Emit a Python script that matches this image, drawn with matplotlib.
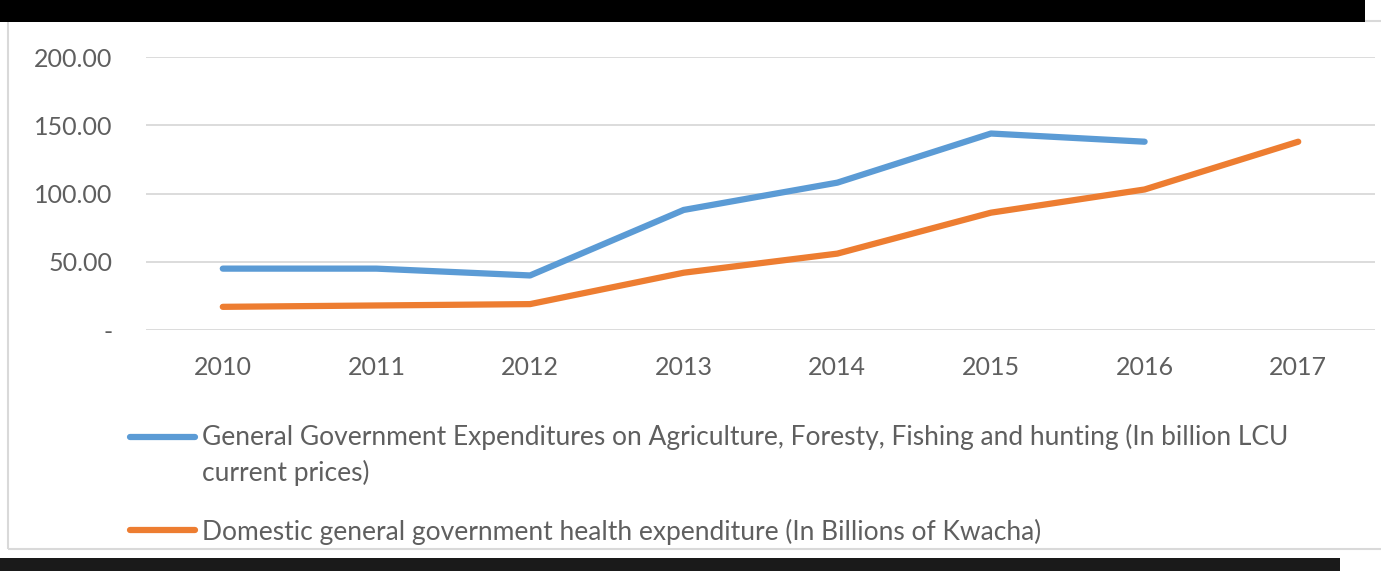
import numpy as np
import matplotlib.pyplot as plt
from matplotlib.lines import Line2D
from matplotlib.patches import Rectangle

years = ['2010', '2011', '2012', '2013', '2014', '2015', '2016', '2017']
agri = [45, 45, 40, 88, 108, 144, 138, np.nan]
health = [17, 18, 19, 42, 56, 86, 103, 138]
yticks = [0, 50, 100, 150, 200]
ytick_labels = ['-', '50.00', '100.00', '150.00', '200.00']
agri_label = ('General Government Expenditures on Agriculture, Foresty, Fishing and hunting (In billion LCU\n'
              'current prices)')
health_label = 'Domestic general government health expenditure (In Billions of Kwacha)'

blue = '#5b9bd5'
orange = '#ed7d31'
grey = '#5f5f5f'

plt.rcParams['font.family'] = ['Lato', 'DejaVu Sans']

fig = plt.figure(figsize=(13.81, 5.71), dpi=100)
ax = fig.add_axes([0.1057, 0.422, 0.89, 0.478])

x = np.arange(len(years))
ax.plot(x, agri, color=blue, lw=4.5, solid_capstyle='round', solid_joinstyle='round')
ax.plot(x, health, color=orange, lw=4.5, solid_capstyle='round', solid_joinstyle='round')

ax.set_xlim(-0.5, len(years) - 0.5)
ax.set_ylim(0, 200)
ax.set_yticks(yticks)
ax.set_yticklabels(ytick_labels)
ax.set_xticks(x)
ax.set_xticklabels(years)
ax.tick_params(axis='both', length=0, labelsize=18, colors=grey)
ax.tick_params(axis='y', pad=24)
ax.tick_params(axis='x', pad=19)
ax.grid(axis='y', color='#d9d9d9', lw=1.3)
ax.set_axisbelow(True)
for s in ax.spines.values():
    s.set_visible(False)

# chart frame, black header strip and cropped caption strip
fig.patches.append(Rectangle((8 / 1381, 22 / 571), 1, 528 / 571, transform=fig.transFigure,
                             fill=False, edgecolor='#d9d9d9', lw=1.5))
fig.patches.append(Rectangle((0, 1 - 22 / 571), 1365 / 1381, 22 / 571, transform=fig.transFigure,
                             facecolor='black', edgecolor='none'))
fig.patches.append(Rectangle((0, 0), 1340 / 1381, 13 / 571, transform=fig.transFigure,
                             facecolor='#1a1a1a', edgecolor='none'))

# legend
fig.add_artist(Line2D([130 / 1381, 195 / 1381], [1 - 437 / 571] * 2, color=blue, lw=4.5,
                      solid_capstyle='round', transform=fig.transFigure))
fig.text(202 / 1381, 1 - 424 / 571, agri_label, fontsize=19, color=grey, va='top',
         linespacing=1.45)
fig.add_artist(Line2D([130 / 1381, 195 / 1381], [1 - 530 / 571] * 2, color=orange, lw=4.5,
                      solid_capstyle='round', transform=fig.transFigure))
fig.text(202 / 1381, 1 - 532 / 571, health_label, fontsize=19, color=grey, va='center')

fig.savefig('out.png', dpi=100)
